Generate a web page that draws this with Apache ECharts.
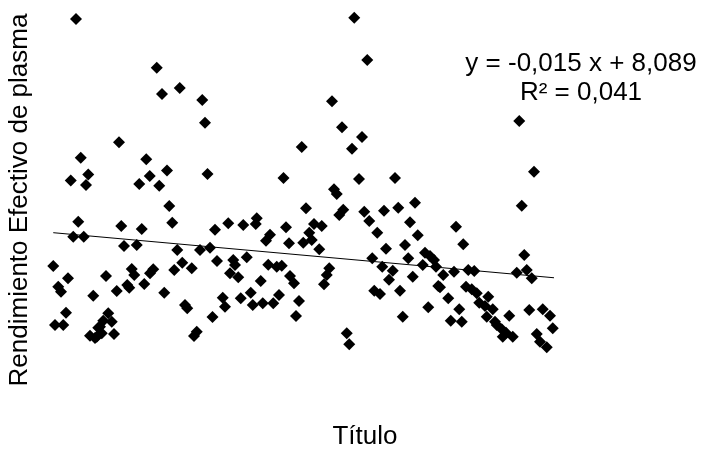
<!DOCTYPE html>
<html>
<head>
<meta charset="utf-8">
<script src="https://cdn.jsdelivr.net/npm/echarts@6/dist/echarts.min.js"></script>
<style>
html, body { margin: 0; padding: 0; background: #fff; }
#chart { width: 701px; height: 454px; }
</style>
</head>
<body>
<div id="chart"></div>
<script>
// valores (x = titulo, y = rendimiento)
var xValues = [
    0.1, 0.8, 2.1, 3.2, 4.1, 5.2, 6.0, 7.1, 8.1, 9.2,
    10.1, 11.1, 12.3, 13.2, 14.1, 14.8, 16.1, 17.5, 18.8, 19.5,
    20.1, 21.2, 22.1, 23.5, 24.4, 25.5, 26.4, 27.3, 28.4, 29.7,
    30.5, 31.5, 32.5, 33.5, 34.5, 35.5, 36.5, 37.3, 38.7, 38.8,
    40.1, 41.5, 42.5, 43.6, 44.5, 45.6, 46.5, 47.7, 48.5, 49.7,
    50.7, 51.7, 52.8, 53.7, 55.5, 56.4, 57.5, 58.8, 59.7, 60.8,
    61.8, 62.8, 63.8, 64.8, 65.6, 67.9, 68.8, 70.1, 70.8, 72.1,
    72.8, 74.1, 75.1, 76.1, 77.5, 79.1, 79.9, 81.1, 81.5, 83.1,
    83.9, 85.2, 86.1, 86.8, 88.1, 89.5, 90.4, 91.5, 92.2, 93.2,
    94.4, 94.8, 96.4, 97.2, 98.4, 99.5, 100.1, 101.2, 102.5, 103.5,
    104.4, 106.5, 107.5, 108.4, 109.5, 110.5, 111.6, 112.4, 113.5, 114.5,
    115.6, 116.1, 117.5, 118.5, 119.6, 120.5, 122.4, 123.6, 124.5, 125.7,
    126.5, 127.7, 128.5, 129.7, 130.8, 131.7, 132.4, 133.2, 134.4, 135.9,
    136.8, 138.1, 138.8, 139.9, 140.8, 142.1, 142.8, 143.9, 144.8, 145.9,
    147.9, 148.8, 150.1, 150.8, 152.4, 153.2, 154.1, 154.8, 156.1, 158.1,
    159.1, 160.4, 161.2, 162.5, 163.5, 164.1, 165.2, 166.1, 167.5, 168.5,
    169.5, 170.5, 172.8, 173.5, 174.1, 175.9, 176.8, 177.5, 179.5, 179.9,
    181.2, 182.5, 183.9, 185.5, 186.5, 187.5, 188.5, 189.5, 190.5, 191.5,
    192.4, 193.5, 194.8, 195.9, 197.5, 198.8, 199.9, 201.5, 18.1, 16.8
];
var yValues = [
    5.87, 1.93, 4.49, 4.15, 1.93, 2.75, 5.05, 11.57, 7.82, 22.33,
    8.82, 13.09, 7.82, 11.27, 11.97, 1.22, 3.89, 1.15, 1.82, 1.38,
    2.22, 5.20, 2.71, 2.15, 1.33, 4.20, 14.11, 8.53, 7.20, 4.60,
    4.42, 5.67, 5.27, 7.27, 11.33, 8.33, 4.67, 12.98, 11.87, 5.38,
    5.65, 19.09, 11.22, 17.33, 4.09, 12.23, 9.87, 8.75, 5.60, 6.93,
    17.73, 6.09, 3.27, 3.05, 5.71, 1.20, 1.49, 6.93, 16.93, 15.42,
    12.00, 7.09, 2.47, 8.29, 6.20, 3.75, 3.15, 8.71, 5.38, 6.27,
    5.93, 5.11, 3.71, 8.60, 6.45, 4.09, 3.27, 8.67, 9.05, 4.87,
    3.38, 7.55, 5.95, 7.95, 3.38, 5.82, 3.93, 5.89, 11.73, 8.45,
    7.38, 5.20, 4.71, 2.53, 3.53, 13.80, 7.42, 9.71, 8.09, 7.60,
    8.67, 6.98, 8.53, 4.65, 5.27, 5.71, 16.85, 10.98, 10.67, 9.27,
    15.11, 9.62, 1.38, 0.65, 13.69, 22.42, 11.67, 14.47, 9.49, 19.60,
    8.87, 6.38, 4.22, 8.09, 4.00, 5.82, 9.55, 7.01, 4.95, 5.55,
    11.73, 9.75, 4.22, 2.49, 7.27, 6.38, 8.78, 5.15, 10.09, 7.91,
    5.93, 6.75, 3.11, 6.53, 6.27, 5.82, 4.53, 4.45, 5.27, 3.71,
    2.22, 5.49, 8.49, 2.98, 2.15, 7.31, 4.49, 5.60, 4.31, 5.53,
    4.05, 3.42, 3.20, 2.49, 3.82, 2.98, 2.15, 1.93, 1.65, 1.15,
    1.42, 2.55, 1.15, 5.42, 15.53, 9.89, 6.60, 5.60, 2.93, 5.05,
    12.15, 1.33, 0.82, 2.98, 0.45, 2.55, 1.71, 2.15, 1.75, 1.07
];

// linea de tendencia (Excel)
var slope = -0.015;
var intercept = 8.089;
var r2 = 0.041;

var xTitle = "Título";
var yTitle = "Rendimiento Efectivo de plasma";

var points = xValues.map(function(x, i) {
    return [x, yValues[i]];
});
var xMin = Math.min.apply(null, xValues);
var xMax = Math.max.apply(null, xValues);
var trend = [
    [xMin, slope * xMin + intercept],
    [xMax, slope * xMax + intercept]
];

function fmt(v) {
    return String(v).replace(".", ",");
}

var font = "Liberation Sans, Arial, sans-serif";

var myChart = echarts.init(document.getElementById("chart"));
var option = {
    animation: false,
    backgroundColor: "#fff",
    grid: {
        left: 53,
        right: 148,
        top: 9,
        bottom: 100,
        outerBoundsMode: "none",
        containLabel: false
    },
    xAxis: {
        type: "value",
        min: 0,
        max: 200,
        axisLine: { show: false },
        axisTick: { show: false },
        axisLabel: { show: false },
        splitLine: { show: false }
    },
    yAxis: {
        type: "value",
        min: 0,
        max: 23,
        axisLine: { show: false },
        axisTick: { show: false },
        axisLabel: { show: false },
        splitLine: { show: false }
    },
    graphic: [
        {
            type: "text",
            x: 365,
            y: 437,
            style: {
                text: xTitle,
                fontSize: 26,
                fontFamily: font,
                fill: "#000",
                textAlign: "center",
                textVerticalAlign: "middle"
            }
        },
        {
            type: "text",
            x: 20,
            y: 200,
            rotation: Math.PI / 2,
            style: {
                text: yTitle,
                fontSize: 26,
                fontFamily: font,
                fill: "#000",
                textAlign: "center",
                textVerticalAlign: "middle"
            }
        },
        {
            type: "text",
            x: 581,
            y: 64,
            style: {
                text: "y = " + fmt(slope) + " x + " + fmt(intercept),
                fontSize: 26,
                fontFamily: font,
                fill: "#000",
                textAlign: "center",
                textVerticalAlign: "middle"
            }
        },
        {
            type: "text",
            x: 581,
            y: 93,
            style: {
                text: "R² = " + fmt(r2),
                fontSize: 26,
                fontFamily: font,
                fill: "#000",
                textAlign: "center",
                textVerticalAlign: "middle"
            }
        }
    ],
    series: [
        {
            type: "scatter",
            symbol: "diamond",
            symbolSize: [12, 12],
            itemStyle: { color: "#000", opacity: 1 },
            data: points
        },
        {
            type: "line",
            symbol: "none",
            lineStyle: { color: "#000", width: 1 },
            data: trend,
            z: 3
        }
    ]
};
myChart.setOption(option);
</script>
</body>
</html>
